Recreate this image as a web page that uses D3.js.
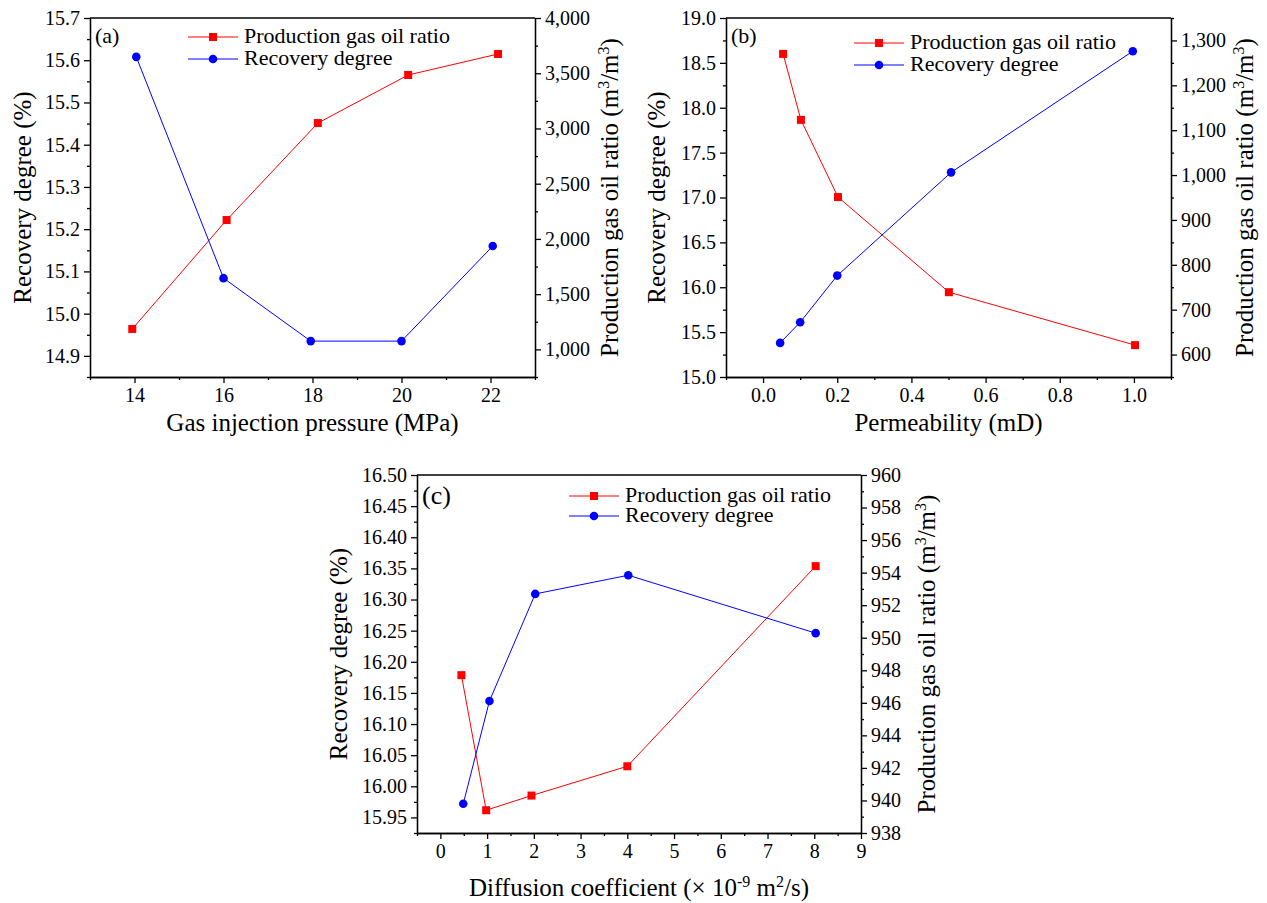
<!DOCTYPE html>
<html>
<head>
<meta charset="utf-8">
<script src="https://cdn.jsdelivr.net/npm/d3@7"></script>
</head>
<body style="margin:0;background:#fff">
<div id="chart"></div>
<script>
// (a) gas injection pressure
const pressureGorX = [13.95, 16.07, 18.12, 20.15, 22.17];
const pressureGor = [1185, 2171, 3049, 3484, 3674];
const pressureRecX = [14.04, 16.0, 17.96, 20.0, 22.05];
const pressureRec = [15.608, 15.084, 14.935, 14.935, 15.16];

// (b) permeability
const permGorX = [0.054, 0.102, 0.202, 0.501, 1.003];
const permGor = [1270, 1123, 951, 739, 621];
const permRecX = [0.046, 0.1, 0.2, 0.507, 0.997];
const permRec = [15.38, 15.61, 16.13, 17.28, 18.63];

// (c) diffusion coefficient
const diffGorX = [0.45, 0.98, 1.95, 4.0, 8.03];
const diffGor = [947.7, 939.4, 940.3, 942.1, 954.4];
const diffRecX = [0.49, 1.05, 2.03, 4.02, 8.03];
const diffRec = [15.972, 16.137, 16.309, 16.339, 16.246];

// tick labels
const ticksXa = [14, 16, 18, 20, 22];
const ticksLa = [14.9, 15.0, 15.1, 15.2, 15.3, 15.4, 15.5, 15.6, 15.7];
const ticksRa = [1000, 1500, 2000, 2500, 3000, 3500, 4000];
const ticksXb = [0.0, 0.2, 0.4, 0.6, 0.8, 1.0];
const ticksLb = [15.0, 15.5, 16.0, 16.5, 17.0, 17.5, 18.0, 18.5, 19.0];
const ticksRb = [600, 700, 800, 900, 1000, 1100, 1200, 1300];
const ticksXc = [0, 1, 2, 3, 4, 5, 6, 7, 8, 9];
const ticksLc = [15.95, 16.00, 16.05, 16.10, 16.15, 16.20, 16.25, 16.30, 16.35, 16.40, 16.45, 16.50];
const ticksRc = [938, 940, 942, 944, 946, 948, 950, 952, 954, 956, 958, 960];

const legendNames = ["Production gas oil ratio", "Recovery degree"];
const red = "#ff0000", blue = "#0000ff";
const serif = '"Liberation Serif", "Times New Roman", "Nimbus Roman", FreeSerif, serif';

const svg = d3.select("#chart").append("svg")
    .attr("width", 1267)
    .attr("height", 903)
    .attr("font-family", serif)
    .style("display", "block");

// build minor tick positions between the domain ends
function minorTicks(domain, step, majors) {
    const out = [];
    const n = Math.round((domain[1] - domain[0]) / step);
    for (let i = 0; i <= n; i++) {
        const v = domain[0] + i * step;
        if (!majors.some(m => Math.abs(m - v) < step / 10)) out.push(v);
    }
    return out;
}

function styleAxis(sel) {
    sel.attr("font-family", serif);
    sel.selectAll("path, line").attr("stroke", "#000").attr("stroke-width", 1.3);
    sel.selectAll("text")
        .attr("font-size", 20)
        .attr("fill", "#000")
        .attr("font-family", serif)
        .style("font-family", serif);
}

function addText(parent) {
    return parent.append("text")
        .attr("font-family", serif)
        .style("font-family", serif)
        .attr("fill", "#000");
}

function drawPanel(cfg) {
    const { left, top, right, bottom } = cfg.frame;
    const x = d3.scaleLinear().domain(cfg.xDomain).range([left, right]);
    const yL = d3.scaleLinear().domain(cfg.lDomain).range([bottom, top]);
    const yR = d3.scaleLinear().domain(cfg.rDomain).range([bottom, top]);

    const g = svg.append("g");

    // top frame line
    g.append("line")
        .attr("x1", left).attr("x2", right)
        .attr("y1", top).attr("y2", top)
        .attr("stroke", "#000").attr("stroke-width", 1.3);

    // major axes
    g.append("g")
        .attr("transform", `translate(0,${bottom})`)
        .call(d3.axisBottom(x).tickValues(cfg.xTicks).tickSize(6).tickSizeOuter(0)
            .tickPadding(5).tickFormat(cfg.xFmt))
        .call(styleAxis);
    g.append("g")
        .attr("transform", `translate(${left},0)`)
        .call(d3.axisLeft(yL).tickValues(cfg.lTicks).tickSize(6).tickSizeOuter(0)
            .tickPadding(4).tickFormat(cfg.lFmt))
        .call(styleAxis);
    g.append("g")
        .attr("transform", `translate(${right},0)`)
        .call(d3.axisRight(yR).tickValues(cfg.rTicks).tickSize(6).tickSizeOuter(0)
            .tickPadding(4).tickFormat(cfg.rFmt))
        .call(styleAxis);

    // minor ticks
    g.append("g")
        .attr("transform", `translate(0,${bottom})`)
        .call(d3.axisBottom(x).tickValues(minorTicks(cfg.xDomain, cfg.xMinor, cfg.xTicks))
            .tickSize(3).tickSizeOuter(0).tickFormat(""))
        .call(styleAxis);
    g.append("g")
        .attr("transform", `translate(${left},0)`)
        .call(d3.axisLeft(yL).tickValues(minorTicks(cfg.lDomain, cfg.lMinor, cfg.lTicks))
            .tickSize(3).tickSizeOuter(0).tickFormat(""))
        .call(styleAxis);
    g.append("g")
        .attr("transform", `translate(${right},0)`)
        .call(d3.axisRight(yR).tickValues(minorTicks(cfg.rDomain, cfg.rMinor, cfg.rTicks))
            .tickSize(3).tickSizeOuter(0).tickFormat(""))
        .call(styleAxis);

    // series
    const gorPts = cfg.gorX.map((d, i) => [x(d), yR(cfg.gor[i])]);
    const recPts = cfg.recX.map((d, i) => [x(d), yL(cfg.rec[i])]);
    const line = d3.line();

    g.append("path").attr("d", line(gorPts))
        .attr("fill", "none").attr("stroke", red).attr("stroke-width", 1);
    g.append("path").attr("d", line(recPts))
        .attr("fill", "none").attr("stroke", blue).attr("stroke-width", 1);

    g.selectAll("rect.gor").data(gorPts).join("rect")
        .attr("class", "gor")
        .attr("x", d => d[0] - 4).attr("y", d => d[1] - 4)
        .attr("width", 8).attr("height", 8)
        .attr("fill", red);
    g.selectAll("circle.rec").data(recPts).join("circle")
        .attr("class", "rec")
        .attr("cx", d => d[0]).attr("cy", d => d[1])
        .attr("r", 4.3).attr("fill", blue);

    // panel label
    addText(g)
        .attr("x", left + 5).attr("y", cfg.labelY)
        .attr("font-size", cfg.labelSize)
        .text(cfg.label);

    // legend
    const lg = g.append("g").attr("transform", `translate(${cfg.legend[0]},${cfg.legend[1]})`);
    legendNames.forEach((name, i) => {
        const yy = i * cfg.legendGap;
        const c = i === 0 ? red : blue;
        lg.append("line").attr("x1", 0).attr("x2", 50).attr("y1", yy).attr("y2", yy)
            .attr("stroke", c).attr("stroke-width", 1);
        if (i === 0) {
            lg.append("rect").attr("x", 21).attr("y", yy - 4).attr("width", 8).attr("height", 8).attr("fill", c);
        } else {
            lg.append("circle").attr("cx", 25).attr("cy", yy).attr("r", 4.3).attr("fill", c);
        }
        addText(lg).attr("x", 56).attr("y", yy + 6)
            .attr("font-size", cfg.legendSize).text(name);
    });

    // x title
    const xt = addText(g)
        .attr("x", (left + right) / 2).attr("y", bottom + cfg.xTitleOff)
        .attr("text-anchor", "middle").attr("font-size", 25);
    cfg.xTitle(xt);

    // left title
    addText(g)
        .attr("transform", `translate(${left - cfg.lTitleOff},${(top + bottom) / 2}) rotate(-90)`)
        .attr("text-anchor", "middle").attr("font-size", 25)
        .text("Recovery degree (%)");

    // right title with superscripts
    const rt = addText(g)
        .attr("transform", `translate(${right + cfg.rTitleOff},${(top + bottom) / 2}) rotate(-90)`)
        .attr("text-anchor", "middle").attr("font-size", 25);
    rt.append("tspan").text("Production gas oil ratio (m");
    rt.append("tspan").attr("dy", -9).attr("font-size", 16).text("3");
    rt.append("tspan").attr("dy", 9).text("/m");
    rt.append("tspan").attr("dy", -9).attr("font-size", 16).text("3");
    rt.append("tspan").attr("dy", 9).text(")");
}

const fmtComma = d3.format(",");

drawPanel({
    label: "(a)", labelY: 43, labelSize: 22,
    frame: { left: 90, top: 18, right: 535, bottom: 377 },
    xDomain: [13, 23], lDomain: [14.85, 15.7], rDomain: [750, 4000],
    xTicks: ticksXa, lTicks: ticksLa, rTicks: ticksRa,
    xMinor: 1, lMinor: 0.05, rMinor: 250,
    xFmt: d3.format("d"), lFmt: d3.format(".1f"), rFmt: fmtComma,
    gorX: pressureGorX, gor: pressureGor, recX: pressureRecX, rec: pressureRec,
    legend: [188, 37], legendGap: 22, legendSize: 22,
    xTitleOff: 54, lTitleOff: 59, rTitleOff: 83,
    xTitle: t => t.text("Gas injection pressure (MPa)")
});

drawPanel({
    label: "(b)", labelY: 43, labelSize: 22,
    frame: { left: 726, top: 18, right: 1171, bottom: 377 },
    xDomain: [-0.1, 1.1], lDomain: [15, 19], rDomain: [550, 1350],
    xTicks: ticksXb, lTicks: ticksLb, rTicks: ticksRb,
    xMinor: 0.1, lMinor: 0.25, rMinor: 50,
    xFmt: d3.format(".1f"), lFmt: d3.format(".1f"), rFmt: fmtComma,
    gorX: permGorX, gor: permGor, recX: permRecX, rec: permRec,
    legend: [854, 43], legendGap: 22, legendSize: 22,
    xTitleOff: 54, lTitleOff: 61, rTitleOff: 82,
    xTitle: t => t.text("Permeability (mD)")
});

drawPanel({
    label: "(c)", labelY: 504, labelSize: 26,
    frame: { left: 417, top: 475, right: 861, bottom: 833 },
    xDomain: [-0.5, 9], lDomain: [15.925, 16.5], rDomain: [938, 960],
    xTicks: ticksXc, lTicks: ticksLc, rTicks: ticksRc,
    xMinor: 0.5, lMinor: 0.025, rMinor: 1,
    xFmt: d3.format("d"), lFmt: d3.format(".2f"), rFmt: d3.format("d"),
    gorX: diffGorX, gor: diffGor, recX: diffRecX, rec: diffRec,
    legend: [569, 496], legendGap: 20, legendSize: 22,
    xTitleOff: 63, lTitleOff: 70, rTitleOff: 74,
    xTitle: t => {
        t.append("tspan").text("Diffusion coefficient (\u00d7 10");
        t.append("tspan").attr("dy", -9).attr("font-size", 16).text("-9");
        t.append("tspan").attr("dy", 9).text(" m");
        t.append("tspan").attr("dy", -9).attr("font-size", 16).text("2");
        t.append("tspan").attr("dy", 9).text("/s)");
    }
});
</script>
</body>
</html>
